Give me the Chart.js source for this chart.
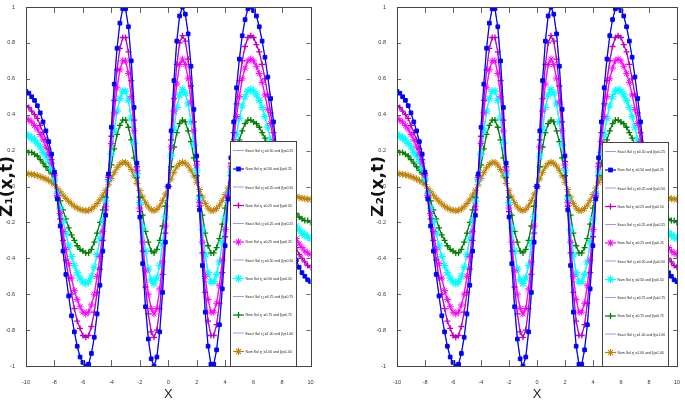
<!DOCTYPE html>
<html>
<head>
<meta charset="utf-8">
<script src="https://cdn.jsdelivr.net/npm/chart.js@4.4.1/dist/chart.umd.min.js"></script>
<style>
  html, body { margin: 0; padding: 0; background: #fff; width: 685px; height: 405px; overflow: hidden; }
  .panneau { position: absolute; top: 0; height: 405px; }
  .legende { position: absolute; background: #fff; border: 1px solid #444; box-sizing: border-box; overflow: hidden; }
  .interieur { position: absolute; left: 0; top: 0; width: 130px; height: 448px; transform: scale(0.5); transform-origin: 0 0;
               font-family: 'Liberation Sans Narrow', 'Arial Narrow', 'Liberation Sans', sans-serif; font-size: 8.6px; color: #222; }
  .ligne { position: absolute; left: 0; height: 20px; display: flex; align-items: center; white-space: nowrap; }
  .ligne canvas { margin-left: 4px; margin-right: 3px; }
  .ligne span { display: inline-block; transform: scaleX(0.8); transform-origin: 0 50%; }
  .ligne sub { font-size: 5.5px; vertical-align: -2px; }
</style>
</head>
<body>
<div class="panneau" style="left:0;width:342px">
  <canvas id="z1" width="342" height="405"></canvas>
  <div class="legende" id="leg1" style="left:230px;top:141px;width:67px;height:226px"><div class="interieur"></div></div>
</div>
<div class="panneau" style="left:371px;width:314px">
  <canvas id="z2" width="314" height="405"></canvas>
  <div class="legende" id="leg2" style="left:231px;top:142px;width:67px;height:225px"><div class="interieur"></div></div>
</div>
<script>
// Profils Z(x,t) (x de -10 à 10, pas 0.2)
const NARROW = "'Liberation Sans Narrow', 'Arial Narrow', 'Liberation Sans', sans-serif"

const X = [-10,-9.8,-9.6,-9.4,-9.2,-9,-8.8,-8.6,-8.4,-8.2,-8,-7.8,-7.6,-7.4,-7.2,-7,-6.8,-6.6,-6.4,-6.2,
  -6,-5.8,-5.6,-5.4,-5.2,-5,-4.8,-4.6,-4.4,-4.2,-4,-3.8,-3.6,-3.4,-3.2,-3,-2.8,-2.6,-2.4,-2.2,
  -2,-1.8,-1.6,-1.4,-1.2,-1,-0.8,-0.6,-0.4,-0.2,0,0.2,0.4,0.6,0.8,1,1.2,1.4,1.6,1.8,
  2,2.2,2.4,2.6,2.8,3,3.2,3.4,3.6,3.8,4,4.2,4.4,4.6,4.8,5,5.2,5.4,5.6,5.8,
  6,6.2,6.4,6.6,6.8,7,7.2,7.4,7.6,7.8,8,8.2,8.4,8.6,8.8,9,9.2,9.4,9.6,9.8,10]

const NUM_050_025 = [0.53,0.52,0.50,0.48,0.45,0.41,0.36,0.31,0.25,0.18,0.08,-0.07,-0.22,-0.36,-0.49,-0.61,-0.72,-0.81,-0.89,-0.95,
  -0.98,-1.00,-0.99,-0.93,-0.84,-0.71,-0.55,-0.36,-0.16,0.07,0.33,0.57,0.77,0.91,0.99,0.99,0.89,0.70,0.44,0.13,
  -0.17,-0.43,-0.67,-0.85,-0.96,-1.00,-0.95,-0.81,-0.59,-0.31,
  0,0.31,0.59,0.81,0.95,1.00,0.96,0.85,0.67,0.43,0.17,-0.13,-0.44,-0.70,-0.89,-0.99,-0.99,-0.91,-0.77,-0.57,
  -0.33,-0.07,0.16,0.36,0.55,0.71,0.84,0.93,0.99,1.00,0.98,0.95,0.89,0.81,0.72,0.61,0.49,0.36,0.22,0.07,
  -0.08,-0.18,-0.25,-0.31,-0.36,-0.41,-0.45,-0.48,-0.50,-0.52,-0.53]

const NUM_025_050 = [0.45,0.44,0.42,0.40,0.38,0.34,0.30,0.26,0.21,0.15,0.07,-0.06,-0.18,-0.30,-0.41,-0.51,-0.60,-0.68,-0.75,-0.79,
  -0.83,-0.84,-0.83,-0.78,-0.70,-0.59,-0.46,-0.30,-0.13,0.06,0.28,0.48,0.65,0.77,0.83,0.83,0.75,0.59,0.37,0.11,
  -0.14,-0.36,-0.56,-0.71,-0.81,-0.84,-0.80,-0.68,-0.49,-0.26,
  0,0.26,0.49,0.68,0.80,0.84,0.81,0.71,0.56,0.36,0.14,-0.11,-0.37,-0.59,-0.75,-0.83,-0.83,-0.77,-0.65,-0.48,
  -0.28,-0.06,0.13,0.30,0.46,0.59,0.70,0.78,0.83,0.84,0.83,0.79,0.75,0.68,0.60,0.51,0.41,0.30,0.18,0.06,
  -0.07,-0.15,-0.21,-0.26,-0.30,-0.34,-0.38,-0.40,-0.42,-0.44,-0.45]

const NUM_025_025 = [0.38,0.37,0.36,0.34,0.32,0.29,0.26,0.22,0.18,0.13,0.06,-0.05,-0.15,-0.25,-0.35,-0.43,-0.51,-0.58,-0.63,-0.67,
  -0.70,-0.71,-0.70,-0.66,-0.60,-0.50,-0.39,-0.25,-0.11,0.05,0.24,0.41,0.55,0.65,0.70,0.70,0.63,0.50,0.31,0.09,
  -0.12,-0.31,-0.47,-0.60,-0.68,-0.71,-0.68,-0.57,-0.42,-0.22,
  0,0.22,0.42,0.57,0.68,0.71,0.68,0.60,0.47,0.31,0.12,-0.09,-0.31,-0.50,-0.63,-0.70,-0.70,-0.65,-0.55,-0.41,
  -0.24,-0.05,0.11,0.25,0.39,0.50,0.60,0.66,0.70,0.71,0.70,0.67,0.63,0.58,0.51,0.43,0.35,0.25,0.15,0.05,
  -0.06,-0.13,-0.18,-0.22,-0.26,-0.29,-0.32,-0.34,-0.36,-0.37,-0.38]

const NUM_050_050 = [0.29,0.28,0.27,0.26,0.24,0.22,0.19,0.17,0.14,0.10,0.04,-0.04,-0.12,-0.19,-0.26,-0.33,-0.39,-0.44,-0.48,-0.51,
  -0.53,-0.54,-0.53,-0.50,-0.45,-0.38,-0.29,-0.19,-0.08,0.04,0.18,0.31,0.42,0.49,0.53,0.53,0.48,0.38,0.24,0.07,
  -0.09,-0.23,-0.36,-0.46,-0.52,-0.54,-0.51,-0.44,-0.32,-0.17,
  0,0.17,0.32,0.44,0.51,0.54,0.52,0.46,0.36,0.23,0.09,-0.07,-0.24,-0.38,-0.48,-0.53,-0.53,-0.49,-0.42,-0.31,
  -0.18,-0.04,0.08,0.19,0.29,0.38,0.45,0.50,0.53,0.54,0.53,0.51,0.48,0.44,0.39,0.33,0.26,0.19,0.12,0.04,
  -0.04,-0.10,-0.14,-0.17,-0.19,-0.22,-0.24,-0.26,-0.27,-0.28,-0.29]

const NUM_075_075 = [0.20,0.19,0.19,0.18,0.17,0.15,0.13,0.11,0.09,0.07,0.03,-0.03,-0.08,-0.13,-0.18,-0.23,-0.27,-0.30,-0.33,-0.35,
  -0.36,-0.37,-0.37,-0.35,-0.31,-0.26,-0.20,-0.13,-0.06,0.03,0.12,0.21,0.29,0.34,0.37,0.37,0.33,0.26,0.16,0.05,
  -0.06,-0.16,-0.25,-0.31,-0.36,-0.37,-0.35,-0.30,-0.22,-0.11,
  0,0.11,0.22,0.30,0.35,0.37,0.36,0.31,0.25,0.16,0.06,-0.05,-0.16,-0.26,-0.33,-0.37,-0.37,-0.34,-0.29,-0.21,
  -0.12,-0.03,0.06,0.13,0.20,0.26,0.31,0.35,0.37,0.37,0.36,0.35,0.33,0.30,0.27,0.23,0.18,0.13,0.08,0.03,
  -0.03,-0.07,-0.09,-0.11,-0.13,-0.15,-0.17,-0.18,-0.19,-0.19,-0.20]

const NUM_100_100 = [0.072,0.070,0.068,0.065,0.061,0.055,0.049,0.042,0.034,0.024,0.011,-0.010,-0.029,-0.048,-0.066,-0.082,-0.097,-0.110,-0.120,-0.128,
  -0.133,-0.135,-0.133,-0.126,-0.113,-0.095,-0.074,-0.048,-0.021,0.009,0.045,0.077,0.104,0.123,0.134,0.134,0.120,0.095,0.059,0.017,
  -0.023,-0.059,-0.090,-0.114,-0.130,-0.135,-0.128,-0.109,-0.079,-0.042,
  0,0.042,0.079,0.109,0.128,0.135,0.130,0.114,0.090,0.059,0.023,-0.017,-0.059,-0.095,-0.120,-0.134,-0.134,-0.123,-0.104,-0.077,
  -0.045,-0.009,0.021,0.048,0.074,0.095,0.113,0.126,0.133,0.135,0.133,0.128,0.120,0.110,0.097,0.082,0.066,0.048,0.029,0.010,
  -0.011,-0.024,-0.034,-0.042,-0.049,-0.055,-0.061,-0.065,-0.068,-0.070,-0.072]

const PARAMETRES = [['0.50', '0.25'], ['0.25', '0.50'], ['0.25', '0.25'], ['0.50', '0.50'], ['0.75', '0.75'], ['1.00', '1.00']]
const VALEURS = [NUM_050_025, NUM_025_050, NUM_025_025, NUM_050_050, NUM_075_075, NUM_100_100]

const STYLES = [
  { couleur: '#0000ff', point: 'rect',  rayon: 2.6, bord: 1 },
  { couleur: '#bf00bf', point: 'cross', rayon: 3,   bord: 1.3 },
  { couleur: '#ff00ff', point: 'star',  rayon: 3.5, bord: 1 },
  { couleur: '#00ffff', point: 'star',  rayon: 4,   bord: 1.2 },
  { couleur: '#008000', point: 'cross', rayon: 3,   bord: 1.3 },
  { couleur: '#c08000', point: 'star',  rayon: 3.5, bord: 1 },
]
const EXACTE = '#8080ff'

// cadre fermé + graduations vers l'intérieur (style MATLAB)
const cadre = {
  id: 'cadre',
  afterDatasetsDraw(chart) {
    const { ctx, chartArea: a, scales: { x, y } } = chart
    ctx.save()
    ctx.strokeStyle = '#666'
    ctx.lineWidth = 1
    ctx.beginPath()
    x.ticks.forEach(t => {
      const px = Math.round(x.getPixelForValue(t.value)) + 0.5
      ctx.moveTo(px, a.bottom); ctx.lineTo(px, a.bottom - 6)
      ctx.moveTo(px, a.top); ctx.lineTo(px, a.top + 6)
    })
    y.ticks.forEach(t => {
      const py = Math.round(y.getPixelForValue(t.value)) + 0.5
      ctx.moveTo(a.left, py); ctx.lineTo(a.left + 4, py)
      ctx.moveTo(a.right, py); ctx.lineTo(a.right - 4, py)
    })
    ctx.stroke()
    ctx.strokeStyle = '#444'
    ctx.strokeRect(Math.round(a.left) + 0.5, Math.round(a.top) + 0.5, Math.round(a.right - a.left), Math.round(a.bottom - a.top))
    ctx.restore()
  },
}

function tracer(id, titreY, droite) {
  const numeriques = VALEURS.map((v, k) => ({
    label: `Num Sol ${PARAMETRES[k].join(' ')}`,
    data: X.map((x, i) => ({ x, y: v[i] })),
    borderColor: STYLES[k].couleur, backgroundColor: STYLES[k].couleur,
    borderWidth: 1.2, tension: 0,
    pointStyle: STYLES[k].point, pointRadius: STYLES[k].rayon, pointBorderWidth: STYLES[k].bord,
    pointBackgroundColor: STYLES[k].couleur, pointBorderColor: STYLES[k].couleur,
  }))
  const exactes = VALEURS.map((v, k) => ({
    label: `Exact Sol ${PARAMETRES[k].join(' ')}`,
    data: X.map((x, i) => ({ x, y: v[i] })),
    borderColor: EXACTE, borderWidth: 0.8, pointRadius: 0, tension: 0,
  }))
  new Chart(document.getElementById(id), {
    type: 'line',
    data: { datasets: [...numeriques, ...exactes] },
    options: {
      responsive: false, animation: false, devicePixelRatio: 1,
      layout: { padding: { left: 0, right: droite, top: 7, bottom: 0 } },
      plugins: { legend: { display: false }, tooltip: { enabled: false } },
      scales: {
        x: {
          type: 'linear', min: -10, max: 10,
          ticks: { stepSize: 2, color: '#333', font: { family: NARROW, size: 5.5 }, padding: 5, maxRotation: 0, autoSkip: false },
          grid: { display: false }, border: { display: false },
          title: { display: true, text: 'X', color: '#222', font: { family: NARROW, size: 13, lineHeight: 1 }, padding: { top: 0, bottom: 4 } },
          afterFit(s) { s.height = 39 },
        },
        y: {
          min: -1, max: 1,
          ticks: { stepSize: 0.2, color: '#333', font: { family: NARROW, size: 5.5 }, padding: 3, autoSkip: false,
                   callback: v => String(Math.round(v * 10) / 10) },
          grid: { display: false }, border: { display: false },
          title: { display: true, text: titreY, color: '#111', font: { family: 'DejaVu Sans', size: 17, weight: 'bold', lineHeight: 0.95 }, padding: 0 },
          afterFit(s) { s.width = 26 },
        },
      },
    },
    plugins: [cadre],
  })
}

function legende(id) {
  const interieur = document.querySelector(`#${id} .interieur`)
  PARAMETRES.forEach(([s, b], k) => {
    ['Exact', 'Num'].forEach((genre, j) => {
      const rang = 2 * k + j
      const ligne = document.createElement('div')
      ligne.className = 'ligne'
      ligne.style.top = (17.4 + 36.5 * rang - 10) + 'px'
      const c = document.createElement('canvas')
      c.width = 22; c.height = 20
      const g = c.getContext('2d')
      const st = STYLES[k]
      g.strokeStyle = genre === 'Exact' ? EXACTE : st.couleur
      g.fillStyle = st.couleur
      g.lineWidth = genre === 'Exact' ? 1.6 : 2.4
      g.beginPath(); g.moveTo(0, 10); g.lineTo(22, 10); g.stroke()
      if (genre === 'Num') {
        g.lineWidth = st.bord * 2
        Chart.helpers.drawPoint(g, { pointStyle: st.point, radius: st.rayon * 2, borderWidth: st.bord * 2, rotation: 0 }, 11, 10)
      }
      const texte = document.createElement('span')
      texte.innerHTML = `${genre} Sol &#962;<sub>1</sub> =${s} and &#946;<sub>1</sub>=${b}`
      ligne.append(c, texte)
      interieur.append(ligne)
    })
  })
}

tracer('z1', 'Z\u2081(x,t)', 31.5)
tracer('z2', 'Z\u2082(x,t)', 2.5)
legende('leg1')
legende('leg2')
</script>
</body>
</html>
